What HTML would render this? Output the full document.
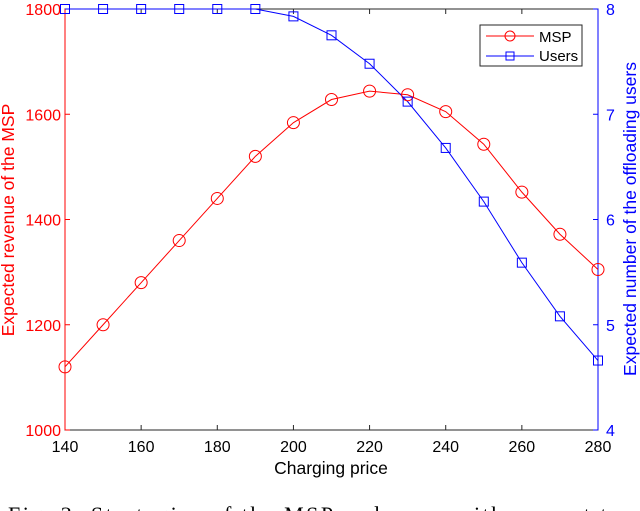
<!DOCTYPE html>
<html><head><meta charset="utf-8"><style>
body{margin:0;background:#fff;width:640px;height:511px;overflow:hidden;position:relative}
svg{position:absolute;left:0;top:0}
</style></head><body>
<svg id="chart" width="640" height="511" font-family="'Liberation Sans',sans-serif">
<rect x="65" y="9" width="533" height="421" fill="none" stroke="#262626" stroke-width="1"/>
<g id="grid"></g>
<g id="series"></g>
<text x="331" y="474" font-size="17.5" text-anchor="middle" fill="#000">Charging price</text>
<text transform="translate(14,220) rotate(-90)" font-size="17.5" text-anchor="middle" fill="#ff0000">Expected revenue of the MSP</text>
<text transform="translate(636,219) rotate(-90)" font-size="17.5" text-anchor="middle" fill="#0000ff">Expected number of the offloading users</text>
<g>
<rect x="480" y="25" width="102" height="41" fill="#fff" stroke="#262626" stroke-width="1"/>
<line x1="486" y1="36" x2="534" y2="36" stroke="#ff0000"/><circle cx="510" cy="36" r="5" fill="none" stroke="#ff0000"/>
<text x="539" y="42" font-size="15" fill="#000">MSP</text>
<line x1="486" y1="56" x2="534" y2="56" stroke="#0000ff"/><rect x="506" y="52" width="8" height="8" fill="none" stroke="#0000ff"/>
<text x="539" y="61" font-size="15" fill="#000">Users</text>
</g>
<text x="8" y="522" font-family="'Liberation Serif',serif" font-size="22" textLength="612" fill="#000">Fig. 3: Strategies of the MSP and users with respect to</text>
</svg>
<script>
const prices=[140,150,160,170,180,190,200,210,220,230,240,250,260,270,280];
const revenue=[1120,1200,1280,1360,1440,1520,1584,1628,1644,1637,1605,1543,1452,1372,1305];
const users=[8,8,8,8,8,8,7.93,7.75,7.48,7.12,6.68,6.17,5.59,5.08,4.66];
const xTicks=[140,160,180,200,220,240,260,280];
const yLeftTicks=[1000,1200,1400,1600,1800];
const yRightTicks=[4,5,6,7,8];
const L=65,R=598,T=9,B=430;
const xs=v=>L+(v-140)/(280-140)*(R-L);
const yl=v=>B-(v-1000)/800*(B-T);
const yr=v=>B-(v-4)/4*(B-T);
const NS='http://www.w3.org/2000/svg';
const g=document.getElementById('grid'),s=document.getElementById('series');
function mk(tag,attrs,parent){const e=document.createElementNS(NS,tag);for(const k in attrs)e.setAttribute(k,attrs[k]);parent.appendChild(e);return e;}
xTicks.forEach(v=>{const x=xs(v);
mk('line',{x1:x,y1:B,x2:x,y2:B-5,stroke:'#262626'},g);
mk('line',{x1:x,y1:T,x2:x,y2:T+5,stroke:'#262626'},g);
const t=mk('text',{x:x,y:452,'font-size':16,'text-anchor':'middle',fill:'#000'},g);t.textContent=v;

});
mk('line',{x1:L,y1:T,x2:L,y2:B,stroke:'#ff0000'},g);
mk('line',{x1:R,y1:T,x2:R,y2:B,stroke:'#0000ff'},g);
yLeftTicks.forEach(v=>{const y=yl(v);
mk('line',{x1:L,y1:y,x2:L+5,y2:y,stroke:'#ff0000'},g);
const t=mk('text',{x:L-4,y:y+6,'font-size':16,'text-anchor':'end',fill:'#ff0000'},g);t.textContent=v;

});
yRightTicks.forEach(v=>{const y=yr(v);
mk('line',{x1:R,y1:y,x2:R-5,y2:y,stroke:'#0000ff'},g);
const t=mk('text',{x:R+8,y:y+6,'font-size':16,fill:'#0000ff'},g);t.textContent=v;

});
const rl=mk('polyline',{points:prices.map((p,i)=>xs(p)+','+yl(revenue[i])).join(' '),fill:'none',stroke:'#ff0000'},s);


const ul=mk('polyline',{points:prices.map((p,i)=>xs(p)+','+yr(users[i])).join(' '),fill:'none',stroke:'#0000ff'},s);


prices.forEach((p,i)=>{
const c=mk('circle',{cx:xs(p),cy:yl(revenue[i]),r:6,fill:'none',stroke:'#ff0000'},s);


const q=mk('rect',{x:xs(p)-4.5,y:yr(users[i])-4.5,width:9,height:9,fill:'none',stroke:'#0000ff'},s);

});
</script>
</body></html>
